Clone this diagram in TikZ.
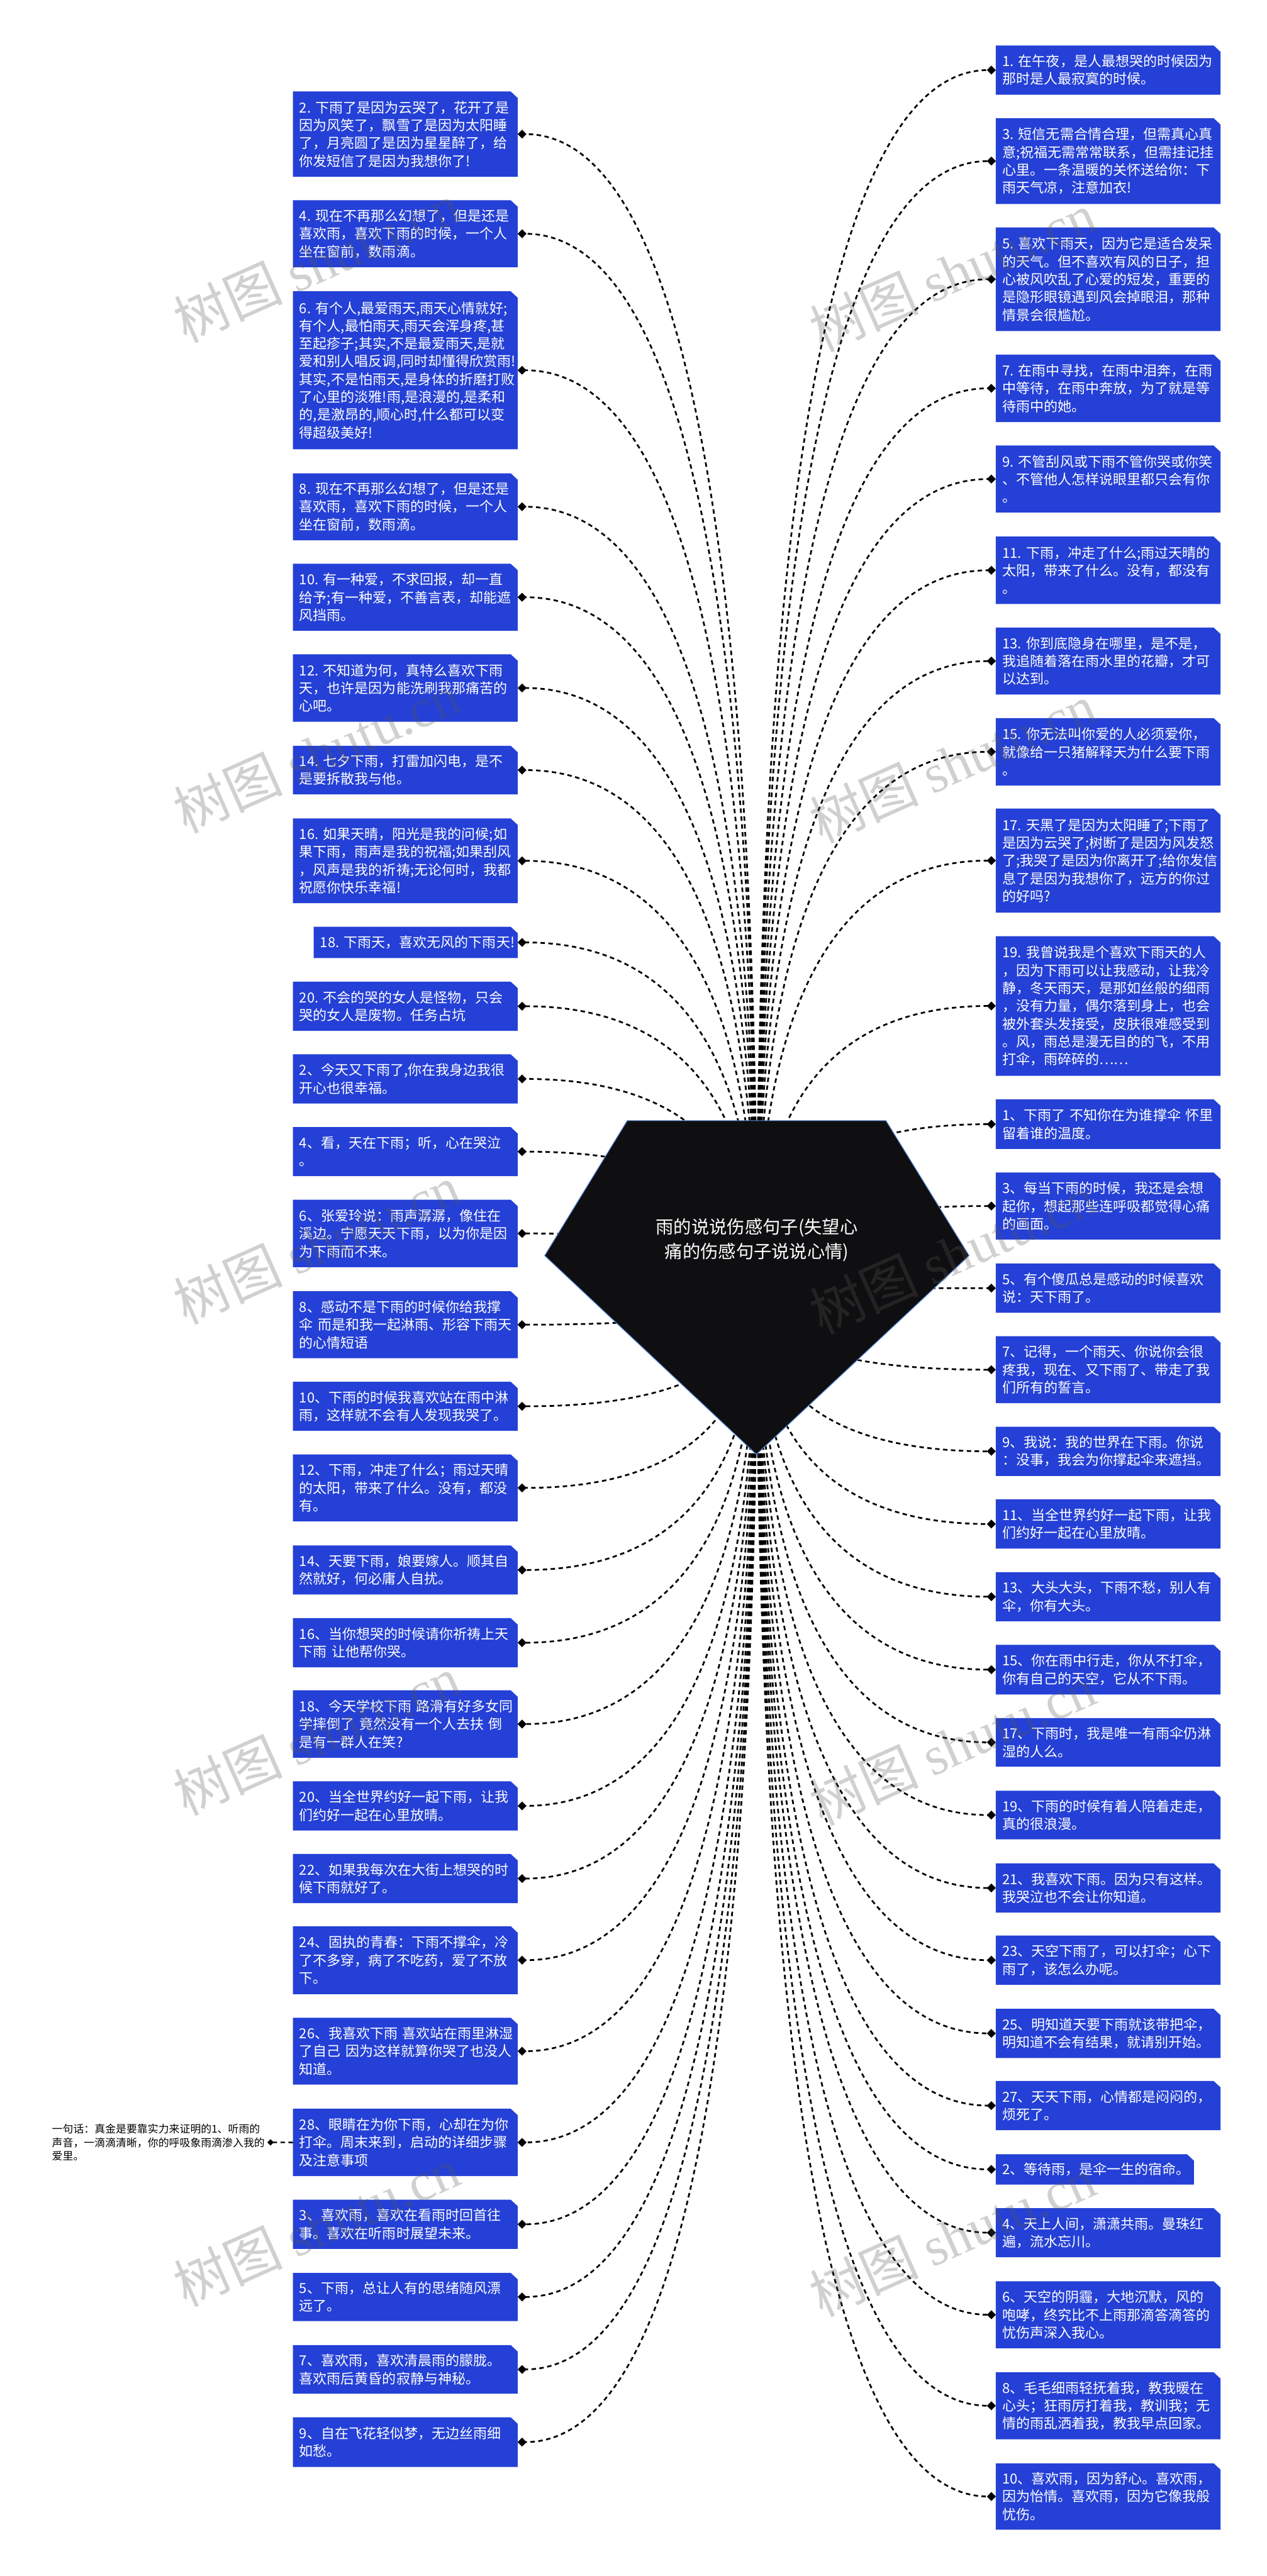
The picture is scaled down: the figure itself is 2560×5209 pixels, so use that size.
\documentclass[tikz,border=0pt]{standalone}
\usepackage{fontspec}
\setmainfont{Noto Sans CJK SC}
\newfontfamily\cjkfont{Noto Sans CJK SC}
\newfontfamily\wmserif{Liberation Serif}
\usetikzlibrary{arrows.meta,calc}
\pgfdeclarelayer{background}
\pgfsetlayers{background,main}
\definecolor{boxblue}{RGB}{36,64,214}
\definecolor{rootfill}{RGB}{15,15,17}
\definecolor{rootline}{RGB}{90,140,220}
\definecolor{wmgray}{RGB}{88,88,88}
\tikzset{
  boxtext/.style={font=\cjkfont\fontsize{28}{36}\selectfont, text=white, align=left, inner xsep=13pt, inner ysep=0pt, anchor=north west},
  conn/.style={line width=3.5pt, black, dash pattern=on 9pt off 7pt, -{Diamond[length=18pt,width=18pt]}},
  connsmall/.style={line width=3pt, black, dash pattern=on 9pt off 7pt, -{Diamond[length=13pt,width=13pt]}},
  roottext/.style={font=\cjkfont\fontsize{36}{50}\selectfont, text=white, align=center},
  onetext/.style={font=\cjkfont\fontsize{21.5}{27}\selectfont, text=black, align=left, text width=430pt, inner sep=5pt, anchor=west},
  wm/.style={font=\fontsize{110}{115}\selectfont, text=wmgray, opacity=0.28, rotate=24}
}
\newcommand{\bluebox}[7]{%
  \node[boxtext, minimum width=#4pt, text width=#5pt, minimum height=#6pt] (#1) at (#2,#3) {#7};
  \begin{pgfonlayer}{background}
    \fill[boxblue] (#1.south west) -- (#1.north west) -- ([xshift=-14pt]#1.north east) -- ([yshift=-13pt]#1.north east) -- (#1.south east) -- cycle;
  \end{pgfonlayer}}
\newcommand{\lconn}[1]{%
  \coordinate (tmpc) at (rc |- #1.east);
  \draw[conn] (rc) .. controls ($(rc)!0.6667!(tmpc)$) and ($(#1.east)!0.6667!(tmpc)$) .. (#1.east);}
\newcommand{\rconn}[1]{%
  \coordinate (tmpc) at (rc |- #1.west);
  \draw[conn] (rc) .. controls ($(rc)!0.6667!(tmpc)$) and ($(#1.west)!0.6667!(tmpc)$) .. (#1.west);}
\begin{document}
\begin{tikzpicture}[x=1pt,y=-1pt]
\useasboundingbox (0,0) rectangle (2560,5209);
\begin{pgfonlayer}{background}
\fill[white] (0,0) rectangle (2560,5209);
\end{pgfonlayer}
\coordinate (rc) at (1530,2603);
% left column
\bluebox{L1}{592}{185}{454}{428}{172}{2.~下雨了是因为云哭了，花开了是\\因为风笑了，飘雪了是因为太阳睡\\了，月亮圆了是因为星星醉了，给\\你发短信了是因为我想你了!}
\bluebox{L2}{592}{405}{454}{428}{135}{4.~现在不再那么幻想了，但是还是\\喜欢雨，喜欢下雨的时候，一个人\\坐在窗前，数雨滴。}
\bluebox{L3}{592}{589}{454}{428}{319}{6.~有个人,最爱雨天,雨天心情就好;\\有个人,最怕雨天,雨天会浑身疼,甚\\至起疹子;其实,不是最爱雨天,是就\\爱和别人唱反调,同时却懂得欣赏雨!\\其实,不是怕雨天,是身体的折磨打败\\了心里的淡雅!雨,是浪漫的,是柔和\\的,是激昂的,顺心时,什么都可以变\\得超级美好!}
\bluebox{L4}{592}{957}{454}{428}{135}{8.~现在不再那么幻想了，但是还是\\喜欢雨，喜欢下雨的时候，一个人\\坐在窗前，数雨滴。}
\bluebox{L5}{592}{1140}{454}{428}{135}{10.~有一种爱，不求回报，却一直\\给予;有一种爱，不善言表，却能遮\\风挡雨。}
\bluebox{L6}{592}{1323}{454}{428}{136}{12.~不知道为何，真特么喜欢下雨\\天，也许是因为能洗刷我那痛苦的\\心吧。}
\bluebox{L7}{592}{1508}{454}{428}{98}{14.~七夕下雨，打雷加闪电，是不\\是要拆散我与他。}
\bluebox{L8}{592}{1655}{454}{428}{171}{16.~如果天晴，阳光是我的问候;如\\果下雨，雨声是我的祝福;如果刮风\\，风声是我的祈祷;无论何时，我都\\祝愿你快乐幸福!}
\bluebox{L9}{634}{1874}{412}{386}{63}{18.~下雨天，喜欢无风的下雨天!}
\bluebox{L10}{592}{1985}{454}{428}{99}{20.~不会的哭的女人是怪物，只会\\哭的女人是废物。任务占坑}
\bluebox{L11}{592}{2132}{454}{428}{99}{2、今天又下雨了,你在我身边我很\\开心也很幸福。}
\bluebox{L12}{592}{2279}{454}{428}{99}{4、看，天在下雨；听，心在哭泣\\。}
\bluebox{L13}{592}{2426}{454}{428}{136}{6、张爱玲说：雨声潺潺，像住在\\溪边。宁愿天天下雨，以为你是因\\为下雨而不来。}
\bluebox{L14}{592}{2611}{454}{428}{135}{8、感动不是下雨的时候你给我撑\\伞~而是和我一起淋雨、形容下雨天\\的心情短语}
\bluebox{L15}{592}{2794}{454}{428}{99}{10、下雨的时候我喜欢站在雨中淋\\雨，这样就不会有人发现我哭了。}
\bluebox{L16}{592}{2941}{454}{428}{135}{12、下雨，冲走了什么；雨过天晴\\的太阳，带来了什么。没有，都没\\有。}
\bluebox{L17}{592}{3125}{454}{428}{99}{14、天要下雨，娘要嫁人。顺其自\\然就好，何必庸人自扰。}
\bluebox{L18}{592}{3272}{454}{428}{99}{16、当你想哭的时候请你祈祷上天\\下雨~让他帮你哭。}
\bluebox{L19}{592}{3418}{454}{428}{136}{18、今天学校下雨~路滑有好多女同\\学摔倒了~竟然没有一个人去扶~倒\\是有一群人在笑?}
\bluebox{L20}{592}{3602}{454}{428}{99}{20、当全世界约好一起下雨，让我\\们约好一起在心里放晴。}
\bluebox{L21}{592}{3749}{454}{428}{99}{22、如果我每次在大街上想哭的时\\候下雨就好了。}
\bluebox{L22}{592}{3895}{454}{428}{137}{24、固执的青春：下雨不撑伞，冷\\了不多穿，病了不吃药，爱了不放\\下。}
\bluebox{L23}{592}{4080}{454}{428}{135}{26、我喜欢下雨~喜欢站在雨里淋湿\\了自己~因为这样就算你哭了也没人\\知道。}
\bluebox{L24}{592}{4264}{454}{428}{136}{28、眼睛在为你下雨，心却在为你\\打伞。周末来到，启动的详细步骤\\及注意事项}
\bluebox{L25}{592}{4448}{454}{428}{99}{3、喜欢雨，喜欢在看雨时回首往\\事。喜欢在听雨时展望未来。}
\bluebox{L26}{592}{4596}{454}{428}{97}{5、下雨，总让人有的思绪随风漂\\远了。}
\bluebox{L27}{592}{4742}{454}{428}{98}{7、喜欢雨，喜欢清晨雨的朦胧。\\喜欢雨后黄昏的寂静与神秘。}
\bluebox{L28}{592}{4888}{454}{428}{100}{9、自在飞花轻似梦，无边丝雨细\\如愁。}
% right column
\bluebox{R1}{2013}{92}{454}{428}{99}{1.~在午夜，是人最想哭的时候因为\\那时是人最寂寞的时候。}
\bluebox{R2}{2013}{239}{454}{428}{173}{3.~短信无需合情合理，但需真心真\\意;祝福无需常常联系，但需挂记挂\\心里。一条温暖的关怀送给你：下\\雨天气凉，注意加衣!}
\bluebox{R3}{2013}{460}{454}{428}{209}{5.~喜欢下雨天，因为它是适合发呆\\的天气。但不喜欢有风的日子，担\\心被风吹乱了心爱的短发，重要的\\是隐形眼镜遇到风会掉眼泪，那种\\情景会很尴尬。}
\bluebox{R4}{2013}{717}{454}{428}{136}{7.~在雨中寻找，在雨中泪奔，在雨\\中等待，在雨中奔放，为了就是等\\待雨中的她。}
\bluebox{R5}{2013}{901}{454}{428}{135}{9.~不管刮风或下雨不管你哭或你笑\\、不管他人怎样说眼里都只会有你\\。}
\bluebox{R6}{2013}{1085}{454}{428}{136}{11.~下雨，冲走了什么;雨过天晴的\\太阳，带来了什么。没有，都没有\\。}
\bluebox{R7}{2013}{1269}{454}{428}{135}{13.~你到底隐身在哪里，是不是，\\我追随着落在雨水里的花瓣，才可\\以达到。}
\bluebox{R8}{2013}{1452}{454}{428}{136}{15.~你无法叫你爱的人必须爱你，\\就像给一只猪解释天为什么要下雨\\。}
\bluebox{R9}{2013}{1635}{454}{428}{210}{17.~天黑了是因为太阳睡了;下雨了\\是因为云哭了;树断了是因为风发怒\\了;我哭了是因为你离开了;给你发信\\息了是因为我想你了，远方的你过\\的好吗?}
\bluebox{R10}{2013}{1893}{454}{428}{282}{19.~我曾说我是个喜欢下雨天的人\\，因为下雨可以让我感动，让我冷\\静，冬天雨天，是那如丝般的细雨\\，没有力量，偶尔落到身上，也会\\被外套头发接受，皮肤很难感受到\\。风，雨总是漫无目的的飞，不用\\打伞，雨碎碎的……}
\bluebox{R11}{2013}{2223}{454}{428}{100}{1、下雨了~不知你在为谁撑伞~怀里\\留着谁的温度。}
\bluebox{R12}{2013}{2371}{454}{428}{135}{3、每当下雨的时候，我还是会想\\起你，想起那些连呼吸都觉得心痛\\的画面。}
\bluebox{R13}{2013}{2555}{454}{428}{99}{5、有个傻瓜总是感动的时候喜欢\\说：天下雨了。}
\bluebox{R14}{2013}{2702}{454}{428}{135}{7、记得，一个雨天、你说你会很\\疼我，现在、又下雨了、带走了我\\们所有的誓言。}
\bluebox{R15}{2013}{2885}{454}{428}{99}{9、我说：我的世界在下雨。你说\\：没事，我会为你撑起伞来遮挡。}
\bluebox{R16}{2013}{3032}{454}{428}{99}{11、当全世界约好一起下雨，让我\\们约好一起在心里放晴。}
\bluebox{R17}{2013}{3179}{454}{428}{99}{13、大头大头，下雨不愁，别人有\\伞，你有大头。}
\bluebox{R18}{2013}{3326}{454}{428}{100}{15、你在雨中行走，你从不打伞，\\你有自己的天空，它从不下雨。}
\bluebox{R19}{2013}{3474}{454}{428}{98}{17、下雨时，我是唯一有雨伞仍淋\\湿的人么。}
\bluebox{R20}{2013}{3621}{454}{428}{98}{19、下雨的时候有着人陪着走走，\\真的很浪漫。}
\bluebox{R21}{2013}{3768}{454}{428}{99}{21、我喜欢下雨。因为只有这样。\\我哭泣也不会让你知道。}
\bluebox{R22}{2013}{3914}{454}{428}{99}{23、天空下雨了，可以打伞；心下\\雨了，该怎么办呢。}
\bluebox{R23}{2013}{4062}{454}{428}{99}{25、明知道天要下雨就该带把伞，\\明知道不会有结果，就请别开始。}
\bluebox{R24}{2013}{4208}{454}{428}{99}{27、天天下雨，心情都是闷闷的，\\烦死了。}
\bluebox{R25}{2013}{4356}{400}{374}{61}{2、等待雨，是伞一生的宿命。}
\bluebox{R26}{2013}{4465}{454}{428}{99}{4、天上人间，潇潇共雨。曼珠红\\遍，流水忘川。}
\bluebox{R27}{2013}{4613}{454}{428}{135}{6、天空的阴霾，大地沉默，风的\\咆哮，终究比不上雨那滴答滴答的\\忧伤声深入我心。}
\bluebox{R28}{2013}{4797}{454}{428}{135}{8、毛毛细雨轻抚着我，教我暖在\\心头；狂雨厉打着我，教训我；无\\情的雨乱洒着我，教我早点回家。}
\bluebox{R29}{2013}{4981}{454}{428}{134}{10、喜欢雨，因为舒心。喜欢雨，\\因为怡情。喜欢雨，因为它像我般\\忧伤。}
% extra text node
\node[onetext] (one) at (100,4332) {一句话：真金是要靠实力来证明的1、听雨的\\声音，一滴滴清晰，你的呼吸象雨滴渗入我的\\爱里。};
% connectors
\foreach \n in {L1,L2,L3,L4,L5,L6,L7,L8,L9,L10,L11,L12,L13,L14,L15,L16,L17,L18,L19,L20,L21,L22,L23,L24,L25,L26,L27,L28}{\lconn{\n}}
\foreach \n in {R1,R2,R3,R4,R5,R6,R7,R8,R9,R10,R11,R12,R13,R14,R15,R16,R17,R18,R19,R20,R21,R22,R23,R24,R25,R26,R27,R28,R29}{\rconn{\n}}
\draw[connsmall] (L24.west) -- (one.east);
% root
\fill[rootfill, draw=rootline, line width=1.5pt] (1268,2266) -- (1791,2266) -- (1959,2539) -- (1529,2941) -- (1101,2539) -- cycle;
\node[roottext] (root) at (1530,2508) {雨的说说伤感句子(失望心\\痛的伤感句子说说心情)};
% watermarks
\foreach \i/\yy in {1/530,2/1523,3/2516,4/3509,5/4502}{
  \node[wm] (wl\i) at (640,\yy) {{\cjkfont 树图} {\wmserif shutu.cn}};
}
\foreach \i/\yy in {1/550,2/1543,3/2536,4/3529,5/4522}{
  \node[wm] (wr\i) at (1925,\yy) {{\cjkfont 树图} {\wmserif shutu.cn}};
}
\end{tikzpicture}
\end{document}
